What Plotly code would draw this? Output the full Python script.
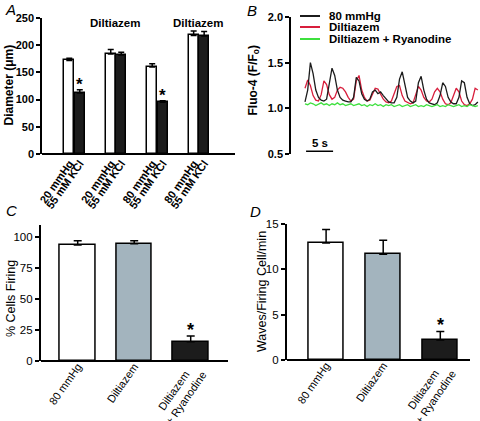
import plotly.graph_objects as go

# ---------------- data ----------------
# Panel A
a_labels = ["20 mmHg", "55 mM KCl", "20 mmHg", "55 mM KCl",
            "80 mmHg", "55 mM KCl", "80 mmHg", "55 mM KCl"]
a_values = [172, 112, 184, 182, 160, 95, 218, 217]
a_errors = [4, 6, 8, 5, 6, 3, 8, 8]
a_signif = [False, True, False, False, False, True, False, False]
a_group_titles = ["", "Diltiazem", "", "Diltiazem"]

# Panel B traces (sampled every 0.5 s)
b_black = [1.07, 1.20, 1.50, 1.38, 1.20, 1.12, 1.09, 1.08, 1.10, 1.25,
           1.44, 1.36, 1.20, 1.12, 1.09, 1.08, 1.07, 1.07, 1.12, 1.34,
           1.30, 1.16, 1.10, 1.08, 1.10, 1.18, 1.20, 1.16, 1.18, 1.14,
           1.10, 1.07, 1.06, 1.06, 1.12, 1.32, 1.40, 1.24, 1.12, 1.08,
           1.06, 1.08, 1.28, 1.35, 1.20, 1.10, 1.06, 1.05, 1.04, 1.06,
           1.14, 1.28, 1.24, 1.12, 1.07, 1.05, 1.05, 1.12, 1.30, 1.28,
           1.12, 1.05, 1.03, 1.04, 1.07]
b_red = [1.22, 1.31, 1.25, 1.14, 1.09, 1.08, 1.15, 1.30, 1.26, 1.15,
         1.10, 1.12, 1.20, 1.23, 1.22, 1.18, 1.12, 1.08, 1.10, 1.30,
         1.36, 1.20, 1.12, 1.08, 1.09, 1.15, 1.22, 1.21, 1.16, 1.10,
         1.07, 1.06, 1.08, 1.15, 1.24, 1.25, 1.14, 1.08, 1.06, 1.05,
         1.06, 1.15, 1.24, 1.20, 1.12, 1.08, 1.07, 1.10, 1.18, 1.22,
         1.18, 1.10, 1.05, 1.04, 1.06, 1.14, 1.22, 1.18, 1.08, 1.04,
         1.03, 1.05, 1.10, 1.22, 1.20]
b_green = [1.05, 1.04, 1.06, 1.05, 1.03, 1.05, 1.06, 1.04, 1.05, 1.03,
           1.05, 1.04, 1.06, 1.04, 1.05, 1.03, 1.04, 1.05, 1.03, 1.04,
           1.05, 1.03, 1.04, 1.02, 1.04, 1.03, 1.05, 1.03, 1.04, 1.02,
           1.04, 1.03, 1.04, 1.02, 1.03, 1.04, 1.02, 1.03, 1.04, 1.02,
           1.03, 1.04, 1.02, 1.03, 1.02, 1.04, 1.03, 1.02, 1.03, 1.04,
           1.02, 1.03, 1.02, 1.04, 1.03, 1.02, 1.03, 1.04, 1.02, 1.03,
           1.02, 1.04, 1.03, 1.02, 1.03]
b_names = ["80 mmHg", "Diltiazem", "Diltiazem + Ryanodine"]
b_dt = 0.5
b_scale_s = 5

# Panels C and D
cd_labels = ["80 mmHg", "Diltiazem", "Diltiazem\u00a0\u00a0\u00a0<br>+ Ryanodine"]
c_values = [93.8, 94.8, 15.6]
c_errors = [3.5, 2.5, 4.6]
d_values = [12.9, 11.65, 2.2]
d_errors = [1.5, 1.55, 0.95]
cd_signif = [False, False, True]

# ---------------- style ----------------
FONT = "Liberation Sans, Arial, sans-serif"
W, H = 480, 421
BLACK = "#1c1c1c"
GRAY = "#a3b4be"
RED = "#d81e3c"
GREEN = "#3ee03e"


def px(x):
    return x / W


def py(y):
    return 1 - y / H


fig = go.Figure()

# ---------- Panel A ----------
gap = 3.95
a_x = [(i // 2) * gap + (i % 2) for i in range(len(a_values))]
a_colors = ["white" if i % 2 == 0 else BLACK for i in range(len(a_values))]
fig.add_trace(go.Bar(
    x=a_x, y=a_values, width=0.95,
    marker=dict(color=a_colors, line=dict(color="black", width=1.5)),
    error_y=dict(type="data", array=a_errors, arrayminus=[0] * len(a_errors),
                 symmetric=False, color="black", thickness=1.5, width=3),
    xaxis="x", yaxis="y", showlegend=False))

annotations = []
shapes = []
for xi, v, e, s in zip(a_x, a_values, a_errors, a_signif):
    if s:
        annotations.append(dict(x=xi, y=v + e, xref="x", yref="y", text="<b>*</b>",
                                showarrow=False, yanchor="bottom", yshift=-6,
                                font=dict(family=FONT, size=17, color="black")))
for g, t in enumerate(a_group_titles):
    if t:
        annotations.append(dict(x=g * gap + 0.5, y=py(15), xref="x", yref="paper",
                                text="<b>%s</b>" % t, showarrow=False,
                                font=dict(family=FONT, size=11.5, color="black")))

# ---------- Panel B ----------
t_black = [i * b_dt for i in range(len(b_black))]
t_red = [i * b_dt for i in range(len(b_red))]
t_green = [i * b_dt for i in range(len(b_green))]
fig.add_trace(go.Scatter(x=t_red, y=b_red, mode="lines", line=dict(color=RED, width=1.3),
                         xaxis="x2", yaxis="y2", showlegend=False, name=b_names[1]))
fig.add_trace(go.Scatter(x=t_black, y=b_black, mode="lines", line=dict(color=BLACK, width=1.3),
                         xaxis="x2", yaxis="y2", showlegend=False, name=b_names[0]))
fig.add_trace(go.Scatter(x=t_green, y=b_green, mode="lines", line=dict(color=GREEN, width=1.3),
                         xaxis="x2", yaxis="y2", showlegend=False, name=b_names[2]))

# manual legend
for name, col, yy in zip(b_names, [BLACK, RED, GREEN], [16, 27, 39]):
    shapes.append(dict(type="line", xref="paper", yref="paper",
                       x0=px(300), x1=px(320), y0=py(yy), y1=py(yy),
                       line=dict(color=col, width=2)))
    annotations.append(dict(x=px(327), y=py(yy), xref="paper", yref="paper",
                            text="<b>%s</b>" % name, showarrow=False,
                            xanchor="left", yanchor="middle",
                            font=dict(family=FONT, size=11.5, color="black")))
# scale bar
shapes.append(dict(type="line", xref="x2", yref="y2", x0=0.2, x1=0.2 + b_scale_s,
                   y0=0.53, y1=0.53, line=dict(color="black", width=1.5)))
annotations.append(dict(x=0.2 + b_scale_s / 2, y=0.53, xref="x2", yref="y2",
                        text="<b>%d s</b>" % b_scale_s, showarrow=False,
                        yanchor="bottom", yshift=0,
                        font=dict(family=FONT, size=11.5, color="black")))

# ---------- Panels C and D ----------
cd_colors = ["white", GRAY, BLACK]
for vals, errs, xa, ya in [(c_values, c_errors, "x3", "y3"), (d_values, d_errors, "x4", "y4")]:
    fig.add_trace(go.Bar(
        x=list(range(len(vals))), y=vals, width=0.62,
        marker=dict(color=cd_colors, line=dict(color="black", width=1.5)),
        error_y=dict(type="data", array=errs, arrayminus=[0] * len(errs),
                     symmetric=False, color="black", thickness=1.5, width=4),
        xaxis=xa, yaxis=ya, showlegend=False))
    for i, (v, e, s) in enumerate(zip(vals, errs, cd_signif)):
        if s:
            annotations.append(dict(x=i, y=v + e, xref=xa, yref=ya, text="<b>*</b>",
                                    showarrow=False, yanchor="bottom", yshift=-6,
                                    font=dict(family=FONT, size=18, color="black")))

# axis titles & panel letters
for txt, x, y, sz in [("<b>Diameter (μm)</b>", 8.5, 85, 12), ("<b>Fluo-4 (F/F<sub>o</sub>)</b>", 253.5, 80, 12),
                      ("% Cells Firing", 11, 299, 12.5), ("Waves/Firing Cell/min", 262, 292, 12.5)]:
    annotations.append(dict(x=px(x), y=py(y), xref="paper", yref="paper", text=txt,
                            textangle=-90, showarrow=False, xanchor="center", yanchor="middle",
                            font=dict(family=FONT, size=sz, color="black")))
for txt, x, y in [("A", 3, 10), ("B", 245, 11), ("C", 4, 210), ("D", 248, 211)]:
    annotations.append(dict(x=px(x), y=py(y), xref="paper", yref="paper", text="<i>%s</i>" % txt,
                            showarrow=False, xanchor="left", yanchor="middle",
                            font=dict(family=FONT, size=15, color="black")))

ax_common = dict(linecolor="black", linewidth=1.5, showgrid=False,
                 color="black", automargin=False)
xbar_common = dict(showline=False, zeroline=False, **ax_common)
ybar_common = dict(showline=True, zeroline=True, zerolinecolor="black",
                   zerolinewidth=1.5, **ax_common)
bold_tick = dict(family=FONT, size=11, color="black", weight="bold")
reg_tick = dict(family=FONT, size=11.5, color="black")
reg_xtick = dict(family=FONT, size=11, color="black")

fig.update_layout(
    width=W, height=H, margin=dict(l=0, r=0, t=0, b=0, autoexpand=False),
    paper_bgcolor="white", plot_bgcolor="white", bargap=0,
    annotations=annotations, shapes=shapes,
    xaxis=dict(domain=[px(42), px(235)], range=[-2.6, 15.79], anchor="y",
               tickvals=a_x, ticktext=a_labels, tickangle=-55, ticks="",
               tickfont=bold_tick, **xbar_common),
    yaxis=dict(domain=[py(154), py(18)], range=[0, 250], anchor="x",
               tickvals=[0, 50, 100, 150, 200, 250], ticks="outside", ticklen=4,
               tickwidth=1.5, tickfont=bold_tick, **ybar_common),
    xaxis2=dict(domain=[px(291), 1.0], range=[-2.59, 32.4], anchor="y2",
                visible=False),
    yaxis2=dict(domain=[py(154), py(17)], range=[0.5, 2.0], anchor="x2",
                tickvals=[0.5, 1.0, 1.5, 2.0], ticktext=["0.5", "1.0", "1.5", "2.0"],
                ticks="outside", ticklen=4, tickwidth=1.5, tickfont=bold_tick,
                showline=True, zeroline=False, **ax_common),
    xaxis3=dict(domain=[px(40.7), px(227.7)], range=[-0.655, 2.655], anchor="y3",
                tickvals=[0, 1, 2], ticktext=cd_labels, tickangle=-55, ticks="",
                ticklabelstandoff=-4, tickfont=reg_xtick, **xbar_common),
    yaxis3=dict(domain=[py(361), py(225)], range=[0, 110], anchor="x3",
                tickvals=[0, 25, 50, 75, 100], ticks="outside", ticklen=4, tickwidth=1.5,
                tickfont=reg_tick, **ybar_common),
    xaxis4=dict(domain=[px(286.7), px(470)], range=[-0.69, 2.52], anchor="y4",
                tickvals=[0, 1, 2], ticktext=cd_labels, tickangle=-55, ticks="",
                ticklabelstandoff=-4, tickfont=reg_xtick, **xbar_common),
    yaxis4=dict(domain=[py(360), py(224)], range=[0, 15], anchor="x4",
                tickvals=[0, 5, 10, 15], ticks="outside", ticklen=4, tickwidth=1.5,
                tickfont=reg_tick, **ybar_common),
)

fig.write_html("out.html", config={"displayModeBar": False},
               post_script="document.body.style.margin='0';document.body.style.overflow='hidden';")
